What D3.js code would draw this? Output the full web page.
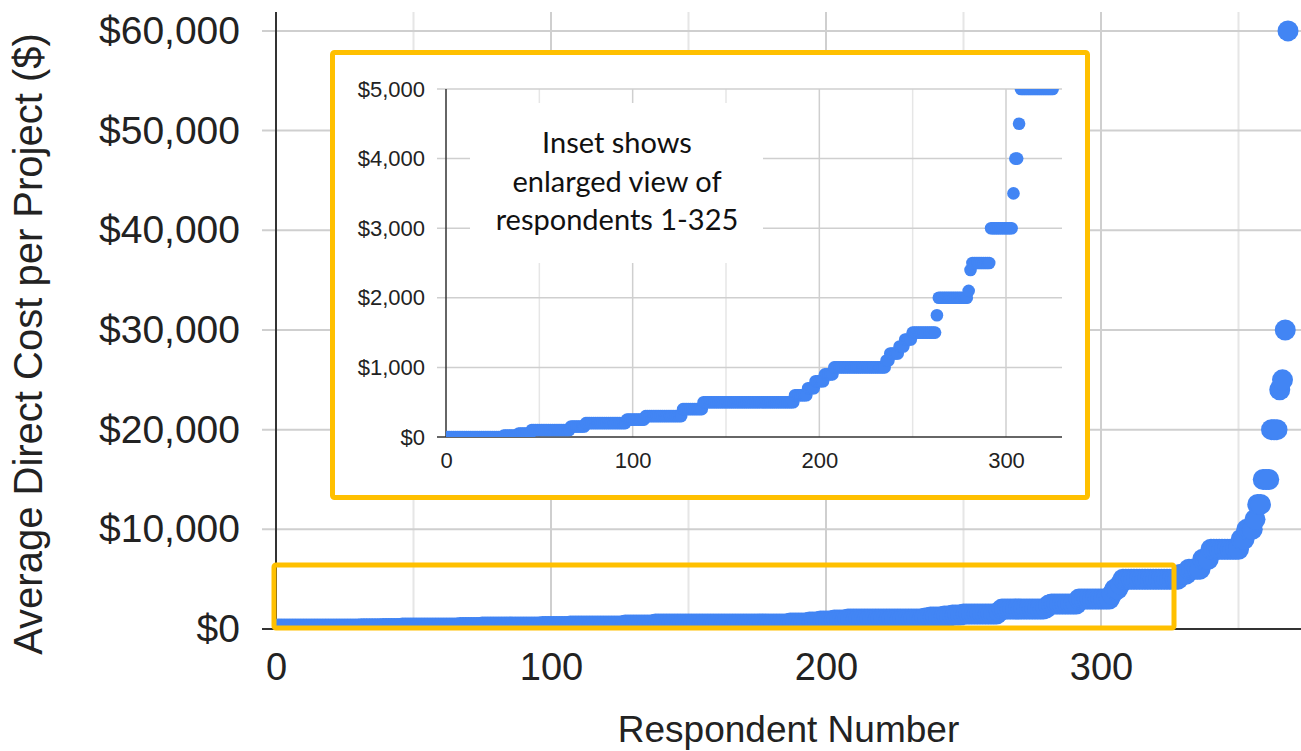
<!DOCTYPE html>
<html lang="en">
<head>
<meta charset="utf-8">
<title>Average direct cost per project</title>
<script src="https://cdn.jsdelivr.net/npm/d3@7"></script>
<style>
  body { margin: 0; background: #fff; }
  svg { display: block; }
  .lbl text { font-family: "Liberation Sans", Arial, sans-serif; fill: #222; }
</style>
</head>
<body>
<div id="chart"></div>
<script>
// respondents sorted by cost, stored as runs of equal values
const costLevels  = [0, 20, 50, 100, 150, 200, 250, 300, 400, 500, 600, 700, 800, 900,
                     1000, 1100, 1200, 1300, 1400, 1500, 1750, 2000, 2100, 2400, 2500,
                     3000, 3500, 4000, 4500, 5000, 5500, 6000, 7000, 8000, 9000, 10000,
                     11000, 12500, 15000, 20000, 24000, 25000, 30000, 60000];
const levelCounts = [30, 8, 7, 21, 8, 22, 10, 20, 11, 49, 7, 4, 5, 5,
                     28, 2, 5, 3, 4, 13, 1, 16, 1, 1, 10,
                     12, 1, 2, 1, 21, 3, 5, 3, 11, 2, 3,
                     1, 2, 3, 3, 1, 1, 1, 1];

const mainYTicks = [0, 10000, 20000, 30000, 40000, 50000, 60000];
const mainXTicks = [0, 100, 200, 300];
const mainXGrid = [50, 100, 150, 200, 250, 300, 350];
const insetYTicks = [0, 1000, 2000, 3000, 4000, 5000];
const insetXTicks = [0, 100, 200, 300];
const insetXGrid = [50, 100, 150, 200, 250, 300];
const insetLast = 325;
const noteLines = ['Inset shows', 'enlarged view of', 'respondents 1-325'];

// expand runs into one point per respondent
let respondents = [];
let n = 0;
for (let j = 0; j < costLevels.length; j++) {
  for (let k = 0; k < levelCounts[j]; k++) {
    n++;
    respondents.push({ id: n, cost: costLevels[j] });
  }
}

const W = 1301, H = 751;
const blue = '#4285F4', yellow = '#FFC000';
const fmt = d => '$' + d3.format(',')(d);

const svg = d3.select('#chart').append('svg')
  .attr('width', W).attr('height', H);

// ---------------- main chart
const m = { left: 276, top: 12, bottom: 629, right: W };
const x = d3.scaleLinear().domain([0, 400]).range([276, 1376]);
const y = d3.scaleLinear().domain([0, 61900]).range([629, 12]);

svg.append('clipPath').attr('id', 'clipMain')
  .append('rect').attr('x', m.left).attr('y', m.top)
  .attr('width', m.right - m.left).attr('height', m.bottom - m.top);

svg.append('g').selectAll('line')
  .data(mainXGrid).enter().append('line')
    .attr('x1', d => x(d)).attr('x2', d => x(d))
    .attr('y1', m.top).attr('y2', m.bottom)
    .attr('stroke', d => d % 100 == 0 ? '#cfcfcf' : '#e6e6e6')
    .attr('stroke-width', 2);

svg.append('g').selectAll('line')
  .data(mainYTicks.filter(d => d > 0)).enter().append('line')
    .attr('x1', m.left - 14).attr('x2', m.right)
    .attr('y1', d => y(d)).attr('y2', d => y(d))
    .attr('stroke', '#cfcfcf').attr('stroke-width', 2);

svg.append('line').attr('x1', m.left - 14).attr('x2', m.right)
  .attr('y1', y(0)).attr('y2', y(0)).attr('stroke', '#333').attr('stroke-width', 2);
svg.append('line').attr('x1', m.left).attr('x2', m.left)
  .attr('y1', m.top).attr('y2', m.bottom).attr('stroke', '#333').attr('stroke-width', 2);

svg.append('g').attr('class', 'lbl')
  .attr('transform', 'translate(' + m.left + ',0)')
  .call(d3.axisLeft(y).tickValues(mainYTicks).tickFormat(fmt).tickSize(0).tickPadding(36))
  .call(g => g.select('.domain').remove())
  .attr('font-size', 39).attr('font-family', null);

svg.append('g').attr('class', 'lbl')
  .attr('transform', 'translate(0,' + m.bottom + ')')
  .call(d3.axisBottom(x).tickValues(mainXTicks).tickSize(0).tickPadding(24))
  .call(g => g.select('.domain').remove())
  .attr('font-size', 38).attr('font-family', null);

svg.append('g').attr('clip-path', 'url(#clipMain)')
  .selectAll('circle')
  .data(respondents).enter().append('circle')
    .attr('cx', d => x(d.id))
    .attr('cy', d => y(d.cost))
    .attr('r', 10.5)
    .attr('fill', blue);

svg.append('rect')
  .attr('x', 274).attr('y', 565).attr('width', 900).attr('height', 63)
  .attr('rx', 2).attr('fill', 'none')
  .attr('stroke', yellow).attr('stroke-width', 5);

svg.append('text')
  .attr('transform', 'translate(42,344) rotate(-90)')
  .attr('text-anchor', 'middle')
  .style('font-family', '"Liberation Sans", Arial, sans-serif')
  .style('font-size', '40px').attr('fill', '#222')
  .text('Average Direct Cost per Project ($)');

svg.append('text')
  .attr('x', (m.left + m.right) / 2).attr('y', 742)
  .attr('text-anchor', 'middle')
  .style('font-family', '"Liberation Sans", Arial, sans-serif')
  .style('font-size', '37px').attr('fill', '#222')
  .text('Respondent Number');

// ---------------- inset
svg.append('rect')
  .attr('x', 332.5).attr('y', 52.5).attr('width', 755).attr('height', 445)
  .attr('rx', 2).attr('fill', '#fff')
  .attr('stroke', yellow).attr('stroke-width', 5);

const ins = { left: 446, top: 89, bottom: 437, right: 1062 };
const xi = d3.scaleLinear().domain([0, 330]).range([ins.left, ins.right]);
const yi = d3.scaleLinear().domain([0, 5000]).range([ins.bottom, ins.top]);

svg.append('clipPath').attr('id', 'clipInset')
  .append('rect').attr('x', ins.left).attr('y', ins.top)
  .attr('width', ins.right - ins.left).attr('height', ins.bottom - ins.top);

svg.append('g').selectAll('line')
  .data(insetXGrid).enter().append('line')
    .attr('x1', d => xi(d)).attr('x2', d => xi(d))
    .attr('y1', ins.top).attr('y2', ins.bottom)
    .attr('stroke', d => d % 100 == 0 ? '#cfcfcf' : '#e6e6e6')
    .attr('stroke-width', 1.5);

svg.append('g').selectAll('line')
  .data(insetYTicks.filter(d => d > 0)).enter().append('line')
    .attr('x1', ins.left - 9).attr('x2', ins.right)
    .attr('y1', d => yi(d)).attr('y2', d => yi(d))
    .attr('stroke', '#cfcfcf').attr('stroke-width', 1.5);

// white patch behind the note
svg.append('rect')
  .attr('x', 470).attr('y', 103).attr('width', 293).attr('height', 160)
  .attr('fill', '#fff');

svg.append('g').selectAll('text')
  .data(noteLines).enter().append('text')
    .attr('x', 617)
    .attr('y', (d, i) => 153 + i * 38.5)
    .attr('text-anchor', 'middle')
    .style('font-family', 'Lato, "Open Sans", sans-serif')
    .style('font-size', '29px').attr('fill', '#111')
    .text(d => d);

svg.append('line').attr('x1', ins.left - 9).attr('x2', ins.right)
  .attr('y1', yi(0)).attr('y2', yi(0)).attr('stroke', '#333').attr('stroke-width', 1.5);
svg.append('line').attr('x1', ins.left).attr('x2', ins.left)
  .attr('y1', ins.top).attr('y2', ins.bottom).attr('stroke', '#333').attr('stroke-width', 1.5);

svg.append('g').attr('class', 'lbl')
  .attr('transform', 'translate(' + ins.left + ',0)')
  .call(d3.axisLeft(yi).tickValues(insetYTicks).tickFormat(fmt).tickSize(0).tickPadding(21))
  .call(g => g.select('.domain').remove())
  .attr('font-size', 22).attr('font-family', null);

svg.append('g').attr('class', 'lbl')
  .attr('transform', 'translate(0,' + ins.bottom + ')')
  .call(d3.axisBottom(xi).tickValues(insetXTicks).tickSize(0).tickPadding(15))
  .call(g => g.select('.domain').remove())
  .attr('font-size', 22).attr('font-family', null);

svg.append('g').attr('clip-path', 'url(#clipInset)')
  .selectAll('circle')
  .data(respondents.filter(d => d.id <= insetLast)).enter().append('circle')
    .attr('cx', d => xi(d.id))
    .attr('cy', d => yi(d.cost))
    .attr('r', 6.3)
    .attr('fill', blue);
</script>
</body>
</html>
